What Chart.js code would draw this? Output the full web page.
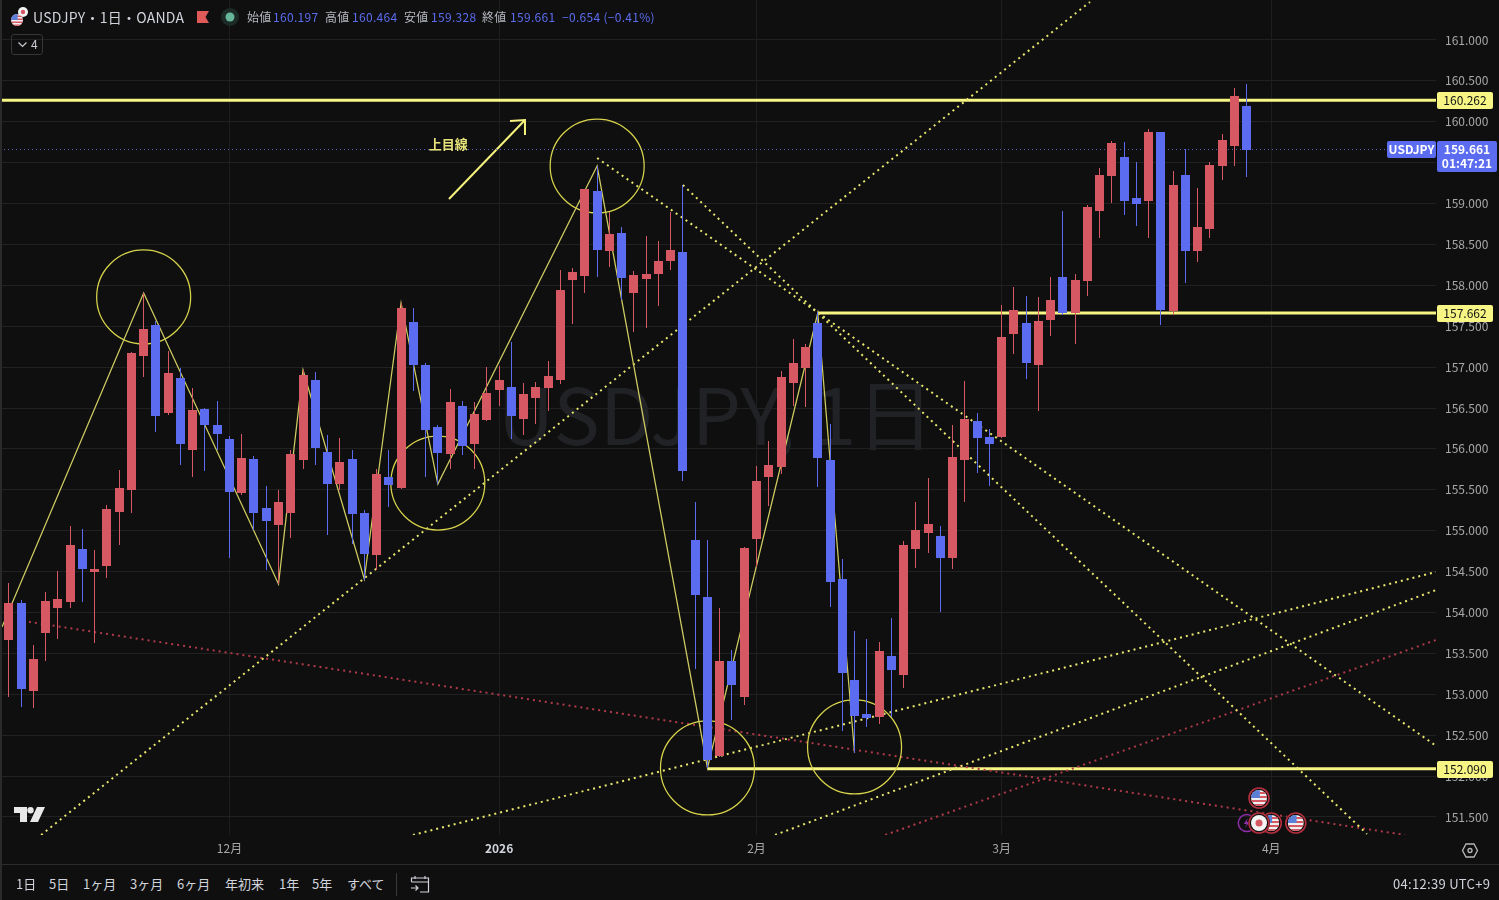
<!DOCTYPE html>
<html lang="ja">
<head>
<meta charset="utf-8">
<title>USDJPY 1日</title>
<script src="https://cdn.jsdelivr.net/npm/chart.js@4.4.0/dist/chart.umd.js"></script>
<style>
  html, body { margin: 0; padding: 0; background: #0f0f0f; overflow: hidden; }
  body { width: 1499px; height: 900px; position: relative; font-family: "Noto Sans CJK JP", "Noto Sans", sans-serif; }
  canvas { position: absolute; left: 0; top: 0; }
  .txt { position: absolute; white-space: nowrap; line-height: 16px; }
  .head { top: 9px; font-size: 12px; color: #b4b7bf; letter-spacing: 0.2px; }
  .val { color: #5b6cf0; letter-spacing: 0.3px; }
  .foot { top: 876px; font-size: 13px; color: #d1d4dc; }
  #edge { position: absolute; left: 0; top: 0; width: 2px; height: 900px; background: #2a2a2a; }
  #rule { position: absolute; left: 2px; top: 864px; width: 1497px; height: 1px; background: #2c2c2c; }
  #sep { position: absolute; left: 396px; top: 873px; width: 1px; height: 23px; background: #3a3a3a; }
  #badge { position: absolute; left: 11px; top: 34px; width: 30px; height: 19px; border: 1px solid #363636; border-radius: 3px; color: #c8cad0; font-size: 12px; line-height: 17px; }
  svg { position: absolute; overflow: visible; }
</style>
</head>
<body>
<canvas id="chart" width="1499" height="864"></canvas>
<div id="edge"></div>
<div id="rule"></div>

<div class="txt" style="left:33px;top:9px;font-size:14px;color:#d1d4dc;letter-spacing:0.25px">USDJPY・1日・OANDA</div>
<svg style="left:197px;top:11px" width="13" height="13"><path d="M0 0H12L8.5 6L12 12H0Z" fill="#e05a5a"/></svg>
<svg style="left:221px;top:8px" width="18" height="18"><circle cx="9" cy="9" r="9" fill="#1c2b27"/><circle cx="9" cy="9" r="4.5" fill="#66b79a"/></svg>
<div class="txt head" style="left:247px">始値</div><div class="txt head val" style="left:273px">160.197</div>
<div class="txt head" style="left:325px">高値</div><div class="txt head val" style="left:352px">160.464</div>
<div class="txt head" style="left:404px">安値</div><div class="txt head val" style="left:431px">159.328</div>
<div class="txt head" style="left:482px">終値</div><div class="txt head val" style="left:510px">159.661</div>
<div class="txt head val" style="left:562px">−0.654 (−0.41%)</div>
<div id="badge"><svg style="left:6px;top:7px" width="9" height="6"><path d="M0.5 0.5L4.5 4.5L8.5 0.5" fill="none" stroke="#c8cad0" stroke-width="1.2"/></svg><span style="position:absolute;left:19px">4</span></div>

<svg style="left:14px;top:807px" width="32" height="16"><path d="M0 0H13V15H6V6H0Z M23 0H31L24 15H16Z" fill="#e8e8e8"/><circle cx="16.5" cy="3.3" r="3.2" fill="#e8e8e8"/></svg>
<svg style="left:1462px;top:843px" width="16" height="15"><path d="M4 1H12L15.5 7.5L12 14H4L0.5 7.5Z" fill="none" stroke="#b8b8b8" stroke-width="1.3"/><circle cx="8" cy="7.5" r="2" fill="none" stroke="#b8b8b8" stroke-width="1.3"/></svg>

<div class="txt foot" style="left:16px">1日</div>
<div class="txt foot" style="left:49px">5日</div>
<div class="txt foot" style="left:83px">1ヶ月</div>
<div class="txt foot" style="left:130px">3ヶ月</div>
<div class="txt foot" style="left:177px">6ヶ月</div>
<div class="txt foot" style="left:225px">年初来</div>
<div class="txt foot" style="left:279px">1年</div>
<div class="txt foot" style="left:312px">5年</div>
<div class="txt foot" style="left:347px">すべて</div>
<div id="sep"></div>
<svg style="left:411px;top:875px" width="19" height="18"><path d="M0.5 7V3H17.5V17H9 M0.5 7H17.5 M4 1V4 M14 1V4 M0 13H7 M4.5 10.5L7 13L4.5 15.5" fill="none" stroke="#d1d4dc" stroke-width="1.2"/></svg>
<div class="txt foot" style="left:1393px;letter-spacing:0.3px">04:12:39 UTC+9</div>

<script>
// Index 0 is the leftmost candle
const opens = [
  153.664, 154.116, 153.040, 153.749, 154.055, 154.129, 154.776, 154.495, 154.568, 155.229,
  155.498, 157.136, 157.515, 156.439, 156.867, 155.987, 156.488, 156.292, 156.121, 155.461,
  155.877, 155.277, 155.070, 155.217, 155.864, 156.843, 155.962, 155.571, 155.877, 155.217,
  154.703, 155.657, 155.522, 157.552, 157.026, 156.268, 155.938, 156.525, 156.060, 156.354,
  156.720, 156.757, 156.366, 156.623, 156.745, 156.843, 158.065, 158.114, 159.154, 158.420,
  158.640, 157.907, 158.078, 158.139, 158.298, 158.408, 154.886, 154.190, 152.245, 153.407,
  152.967, 154.898, 155.657, 155.779, 156.806, 156.989, 157.540, 155.864, 154.410, 153.175,
  152.759, 152.722, 153.468, 153.236, 154.776, 154.972, 154.935, 154.666, 155.864, 156.341,
  156.146, 156.146, 157.405, 157.540, 157.026, 157.576, 158.102, 157.662, 158.053, 158.909,
  159.337, 159.569, 159.068, 159.031, 159.875, 157.686, 159.349, 158.420, 158.689, 159.459,
  159.704, 160.197
];
const highs = [
  154.360, 154.153, 153.603, 154.251, 154.508, 155.057, 155.020, 154.763, 155.314, 155.742,
  157.185, 157.907, 157.564, 157.197, 156.989, 156.745, 156.500, 156.586, 156.158, 156.182,
  155.913, 155.547, 155.498, 155.987, 156.965, 156.941, 156.170, 156.134, 155.987, 155.253,
  155.755, 155.987, 157.784, 157.723, 157.051, 156.292, 156.733, 156.586, 156.574, 157.002,
  157.014, 157.307, 156.806, 156.818, 157.075, 158.188, 158.212, 159.178, 159.459, 158.897,
  158.713, 158.175, 158.603, 158.542, 158.897, 159.227, 155.351, 154.886, 154.055, 153.541,
  154.801, 155.791, 156.097, 156.953, 157.344, 157.283, 157.674, 156.305, 154.654, 153.774,
  153.676, 153.639, 153.933, 154.874, 155.351, 155.645, 155.057, 156.292, 156.831, 156.439,
  156.243, 157.760, 157.980, 157.870, 157.858, 158.102, 158.909, 158.139, 158.982, 159.435,
  159.765, 159.753, 159.508, 159.912, 159.875, 159.398, 159.667, 159.190, 159.508, 159.851,
  160.413, 160.464
];
const lows = [
  152.967, 152.844, 152.832, 153.407, 153.676, 154.055, 154.129, 153.627, 154.422, 154.825,
  155.217, 156.879, 156.207, 156.415, 155.803, 155.657, 155.730, 155.987, 154.666, 155.436,
  155.008, 154.520, 154.348, 154.911, 155.755, 155.803, 154.947, 155.498, 154.838, 154.397,
  154.520, 155.290, 155.510, 156.708, 155.657, 155.571, 155.755, 155.925, 155.755, 156.341,
  156.525, 156.121, 156.170, 156.305, 156.464, 156.794, 157.527, 157.907, 158.102, 158.224,
  157.821, 157.430, 157.478, 157.748, 158.188, 155.608, 153.309, 152.099, 152.233, 152.686,
  152.869, 154.556, 155.302, 155.693, 156.525, 156.513, 155.535, 154.067, 152.551, 152.282,
  152.600, 152.637, 152.722, 153.077, 154.544, 154.727, 154.006, 154.532, 155.351, 155.706,
  155.547, 156.134, 157.161, 156.855, 156.464, 157.381, 157.638, 157.283, 157.870, 158.579,
  159.007, 158.860, 158.726, 158.579, 157.515, 157.638, 158.029, 158.285, 158.579, 159.288,
  159.459, 159.328
];
const closes = [
  154.116, 153.064, 153.432, 154.141, 154.165, 154.825, 154.532, 154.532, 155.265, 155.522,
  157.173, 157.466, 156.402, 156.928, 156.060, 156.476, 156.292, 156.182, 155.473, 155.889,
  155.217, 155.119, 155.351, 155.938, 156.904, 156.011, 155.571, 155.840, 155.204, 154.715,
  155.693, 155.559, 157.723, 157.026, 156.231, 155.950, 156.574, 156.036, 156.427, 156.684,
  156.843, 156.402, 156.672, 156.757, 156.892, 157.943, 158.163, 159.178, 158.432, 158.628,
  158.090, 158.127, 158.139, 158.298, 158.432, 155.730, 154.214, 152.196, 153.407, 153.113,
  154.789, 155.608, 155.803, 156.879, 157.051, 157.246, 155.889, 154.373, 153.260, 152.734,
  152.710, 153.529, 153.297, 154.825, 155.008, 155.082, 154.666, 155.901, 156.366, 156.134,
  156.060, 157.368, 157.699, 157.051, 157.564, 157.821, 157.662, 158.065, 158.958, 159.349,
  159.741, 159.031, 158.995, 159.875, 157.699, 159.227, 158.420, 158.713, 159.472, 159.777,
  160.315, 159.661
];

const xTickValues = [18, 40, 61, 81, 103];
const xTickLabels = ['12月', '2026', '2月', '3月', '4月'];
const yTickValues = [151.5, 152, 152.5, 153, 153.5, 154, 154.5, 155, 155.5, 156, 156.5, 157, 157.5, 158, 158.5, 159, 159.5, 160, 160.5, 161];

// Visible range of the pane
const xMin = -0.722, xMax = 116.44;
const yMin = 151.2795, yMax = 161.489;

const lastPrice = 159.661;
const levelPrices = [160.262, 157.662, 152.090];
const levelStarts = [xMin, 66, 57];

// Drawings on the chart
const zigX = [-0.56, 11, 22, 24, 29, 32, 35, 48, 57, 66, 69];
const zigY = [153.823, 157.907, 154.348, 156.965, 154.409, 157.784, 155.571, 159.459, 152.099, 157.662, 152.282];
const circleX = [11, 35, 48, 57, 69];
const circleY = [157.858, 155.583, 159.459, 152.099, 152.356];
const yellowTrendX = [[2.63, 88.21], [48, 116.35], [55, 110.81], [32.97, 116.44], [62.51, 116.44]];
const yellowTrendY = [[151.28, 161.465], [159.557, 152.38], [159.227, 151.292], [151.28, 154.495], [151.28, 154.275]];
const redTrendX = [[0.67, 113.91], [71.5, 116.44]];
const redTrendY = [[153.908, 151.28], [151.28, 153.664]];
const arrowX = [35.91, 42.11];
const arrowY = [159.056, 160.022];
const arrowHeadX = [40.89, 42.11, 42.11];
const arrowHeadY = [160.01, 160.022, 159.838];
const noteX = 35.85, noteY = 159.73;

// Economic calendar markers under the last candles
const eventX = [102, 101, 103, 102, 105];
const eventY = [151.732, 151.426, 151.426, 151.426, 151.426];
const eventKind = ['us', 'bolt', 'us', 'jp', 'us'];

const RED = '#d65863';
const BLUE = '#5b6cf0';
const FONT = '"Noto Sans CJK JP", "Noto Sans", sans-serif';

function pts(xs, ys) {
  return xs.map((x, i) => ({ x: x, y: ys[i] }));
}

const candleColors = opens.map((o, i) => (closes[i] >= o ? RED : BLUE));

function lineSet(xs, ys, color, width, dash) {
  return {
    type: 'line',
    data: pts(xs, ys),
    borderColor: color,
    borderWidth: width,
    borderDash: dash || [],
    pointRadius: 0,
    tension: 0,
    order: 5
  };
}

const datasets = [
  {
    type: 'bar', grouped: false, order: 1, barThickness: 9, inflateAmount: 0,
    data: opens.map((o, i) => ({ x: i, y: [o, closes[i]] })),
    backgroundColor: candleColors
  },
  {
    type: 'bar', grouped: false, order: 2, barThickness: 1, inflateAmount: 0,
    data: lows.map((l, i) => ({ x: i, y: [l, highs[i]] })),
    backgroundColor: candleColors
  },
  lineSet([xMin, xMax], [lastPrice, lastPrice], '#5362c0', 1, [1, 3]),
  lineSet(zigX, zigY, '#cfcc62', 1.25),
  lineSet(arrowX, arrowY, '#f5f27e', 2),
  lineSet(arrowHeadX, arrowHeadY, '#f5f27e', 2),
  {
    type: 'line', showLine: false, order: 5,
    data: pts(circleX, circleY),
    pointRadius: 47, pointBorderWidth: 1.25,
    pointBackgroundColor: 'transparent', pointBorderColor: '#d8d44c'
  }
];
yellowTrendX.forEach((xs, i) => datasets.push(lineSet(xs, yellowTrendY[i], '#e9e76e', 2, [2, 4])));
redTrendX.forEach((xs, i) => datasets.push(lineSet(xs, redTrendY[i], '#b03a4a', 2, [2, 4])));
levelPrices.forEach((p, i) => datasets.push(lineSet([levelStarts[i], xMax], [p, p], '#f7f584', 3)));

// Candles sit on whole pixels in the reference
const snapPlugin = {
  id: 'snap',
  beforeDatasetsDraw(chart) {
    [0, 1].forEach(i => {
      chart.getDatasetMeta(i).data.forEach(bar => {
        bar.x = Math.floor(bar.x) + 0.5;
        bar.y = Math.round(bar.y);
        bar.base = Math.round(bar.base);
      });
    });
  }
};

const watermarkPlugin = {
  id: 'watermark',
  beforeDatasetsDraw(chart) {
    const ctx = chart.ctx;
    ctx.save();
    ctx.fillStyle = '#212225';
    ctx.font = '78px ' + FONT;
    ctx.textAlign = 'center';
    ctx.textBaseline = 'alphabetic';
    ctx.fillText('USDJPY, 1日', 716, 445);
    ctx.restore();
  }
};

function drawFlag(ctx, x, y, kind, r) {
  const size = r || 8;
  ctx.save();
  if (kind === 'bolt') {
    ctx.strokeStyle = '#8e2ea8';
    ctx.lineWidth = 1.5;
    ctx.beginPath();
    ctx.arc(x, y, 8.5, 0, Math.PI * 2);
    ctx.stroke();
    ctx.fillStyle = '#8e2ea8';
    ctx.beginPath();
    ctx.moveTo(x + 1, y - 5);
    ctx.lineTo(x - 3, y + 1);
    ctx.lineTo(x, y + 1);
    ctx.lineTo(x - 2, y + 5);
    ctx.lineTo(x + 3, y - 1);
    ctx.lineTo(x, y - 1);
    ctx.fill();
    ctx.restore();
    return;
  }
  if (!r) {
    ctx.fillStyle = '#0f0f0f';
    ctx.beginPath();
    ctx.arc(x, y, 11, 0, Math.PI * 2);
    ctx.fill();
    ctx.strokeStyle = '#b5303f';
    ctx.lineWidth = 1.6;
    ctx.beginPath();
    ctx.arc(x, y, 10, 0, Math.PI * 2);
    ctx.stroke();
  }
  ctx.beginPath();
  ctx.arc(x, y, size, 0, Math.PI * 2);
  ctx.clip();
  if (kind === 'jp') {
    ctx.fillStyle = '#f4f4f4';
    ctx.fillRect(x - size, y - size, size * 2, size * 2);
    ctx.fillStyle = '#d65863';
    ctx.beginPath();
    ctx.arc(x, y, size * 0.44, 0, Math.PI * 2);
    ctx.fill();
  } else {
    ctx.fillStyle = '#f0f0f0';
    ctx.fillRect(x - size, y - size, size * 2, size * 2);
    ctx.fillStyle = '#d65863';
    for (let s = -1; s < 1; s += 0.5) ctx.fillRect(x - size, y + (s + 0.25) * size, size * 2, size * 0.25);
    ctx.fillStyle = '#5a7fd6';
    ctx.fillRect(x - size, y - size, size * 1.1, size);
  }
  ctx.restore();
}

function priceTag(ctx, left, top, w, h, fill, color, lines, bold) {
  ctx.fillStyle = fill;
  ctx.beginPath();
  ctx.roundRect(left, top, w, h, 2);
  ctx.fill();
  ctx.fillStyle = color;
  ctx.textAlign = 'center';
  ctx.textBaseline = 'middle';
  ctx.font = (bold ? '600 ' : '') + '12px ' + FONT;
  lines.forEach((t, i) => ctx.fillText(t, left + w / 2, top + 8 + i * 14));
}

const overlayPlugin = {
  id: 'overlay',
  afterDraw(chart) {
    const ctx = chart.ctx;
    const xs = chart.scales.x, ys = chart.scales.y;
    ctx.save();

    ctx.fillStyle = '#e8e47c';
    ctx.font = '600 13px ' + FONT;
    ctx.textAlign = 'center';
    ctx.textBaseline = 'middle';
    ctx.fillText('上目線', xs.getPixelForValue(noteX), ys.getPixelForValue(noteY));

    eventKind.forEach((kind, i) => {
      drawFlag(ctx, xs.getPixelForValue(eventX[i]), ys.getPixelForValue(eventY[i]), kind);
    });

    // symbol badge in the legend row
    drawFlag(ctx, 23, 12, 'jp', 5);
    drawFlag(ctx, 17, 20, 'us', 6);

    levelPrices.forEach(p => {
      const y = Math.round(ys.getPixelForValue(p));
      priceTag(ctx, 1437, y - 8, 56, 17, '#f7f584', '#131313', [p.toFixed(3)]);
    });
    const lastY = Math.round(ys.getPixelForValue(lastPrice));
    priceTag(ctx, 1387, lastY - 9, 49, 17, BLUE, '#ffffff', ['USDJPY'], true);
    priceTag(ctx, 1437, lastY - 9, 60, 31, BLUE, '#ffffff', [lastPrice.toFixed(3), '01:47:21'], true);
    ctx.restore();
  }
};

new Chart(document.getElementById('chart'), {
  type: 'bar',
  data: { datasets: datasets },
  plugins: [snapPlugin, watermarkPlugin, overlayPlugin],
  options: {
    responsive: false,
    animation: false,
    layout: { padding: 0, autoPadding: false },
    plugins: { legend: { display: false }, tooltip: { enabled: false } },
    scales: {
      x: {
        type: 'linear',
        min: xMin,
        max: xMax,
        offset: false,
        afterBuildTicks: scale => { scale.ticks = xTickValues.map(v => ({ value: v })); },
        afterFit: scale => { scale.height = 29; scale.paddingLeft = 0; scale.paddingRight = 0; },
        grid: { color: '#1e1e1e', offset: false, drawTicks: false },
        border: { display: false },
        ticks: {
          autoSkip: false,
          maxRotation: 0,
          padding: 6,
          color: ctx => (ctx.tick && ctx.tick.value === 40 ? '#d1d4dc' : '#a8a8a8'),
          font: ctx => ({ family: FONT, size: 12, weight: ctx.tick && ctx.tick.value === 40 ? '600' : '400' }),
          callback: value => xTickLabels[xTickValues.indexOf(value)]
        }
      },
      y: {
        position: 'right',
        min: yMin,
        max: yMax,
        afterBuildTicks: scale => { scale.ticks = yTickValues.map(v => ({ value: v })); },
        afterFit: scale => { scale.width = 63; scale.paddingTop = 0; scale.paddingBottom = 0; },
        grid: { color: '#212121', drawTicks: false },
        border: { display: false },
        ticks: {
          padding: 9,
          color: '#a8a8a8',
          font: { family: FONT, size: 12 },
          callback: value => value.toFixed(3)
        }
      }
    }
  }
});
</script>
</body>
</html>
